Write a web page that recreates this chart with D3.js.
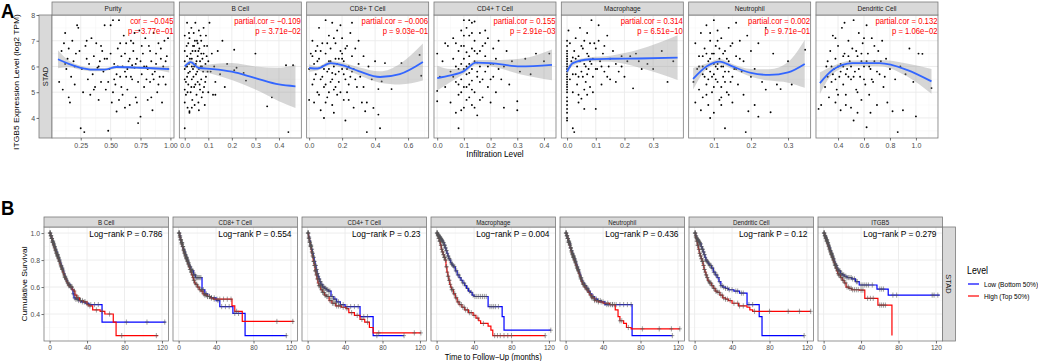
<!DOCTYPE html>
<html>
<head>
<meta charset="utf-8">
<script src="https://cdn.jsdelivr.net/npm/d3@7"></script>
<style>
  body { margin: 0; background: #fff; }
  svg { display: block; font-family: "Liberation Sans", Arial, sans-serif; }
</style>
</head>
<body>
<div id="chart"></div>
<script>
// ---------------- panel A : ITGB5 expression vs infiltration ----------------
var aNames = ["Purity", "B Cell", "CD8+ T Cell", "CD4+ T Cell", "Macrophage", "Neutrophil", "Dendritic Cell"];
var aCor = ["cor = \u22120.045", "partial.cor = \u22120.109", "partial.cor = \u22120.006", "partial.cor = 0.155",
            "partial.cor = 0.314", "partial.cor = 0.002", "partial.cor = 0.132"];
var aP = ["p = 3.77e\u221201", "p = 3.71e\u221202", "p = 9.03e\u221201", "p = 2.91e\u221203",
          "p = 6.51e\u221210", "p = 9.71e\u221201", "p = 1.06e\u221202"];
var aXDomain = [[0.01, 1.03], [-0.023, 0.495], [-0.015, 0.725], [-0.012, 0.445], [-0.02, 0.405], [0.032, 0.361], [0.23, 1.17]];
var aXTicks = [[0.25, 0.5, 0.75, 1.0], [0, 0.1, 0.2, 0.3, 0.4], [0, 0.2, 0.4, 0.6], [0, 0.1, 0.2, 0.3, 0.4],
               [0, 0.1, 0.2, 0.3], [0.1, 0.2, 0.3], [0.4, 0.6, 0.8, 1.0]];
var aYTicks = [4, 5, 6, 7, 8];

var ptsPurity = [[0.07,5.4],[0.09,6.6],[0.1,5.1],[0.11,6.9],[0.12,7.3],[0.13,5.9],[0.14,6.3],[0.15,4.8],[0.15,6.7],[0.16,4.6],
  [0.17,5.6],[0.18,7.0],[0.19,6.2],[0.2,5.3],[0.21,6.5],[0.22,7.6],[0.23,7.5],[0.24,6.6],[0.25,3.6],[0.26,5.9],[0.27,5.0],
  [0.28,3.45],[0.29,6.8],[0.3,7.0],[0.31,5.5],[0.32,6.1],[0.33,4.9],[0.34,7.1],[0.35,5.7],[0.36,6.4],[0.37,5.2],[0.38,6.9],
  [0.39,5.95],[0.4,4.7],[0.41,6.2],[0.42,5.4],[0.43,6.6],[0.44,5.8],[0.45,7.6],[0.46,5.1],[0.47,6.3],[0.48,3.5],[0.49,5.9],
  [0.5,7.6],[0.51,4.6],[0.52,7.8],[0.53,6.1],[0.54,5.3],[0.55,4.25],[0.56,6.7],[0.57,7.8],[0.58,5.6],[0.59,6.4],[0.6,4.9],
  [0.61,7.2],[0.62,5.8],[0.63,6.9],[0.64,5.1],[0.65,6.2],[0.66,4.5],[0.67,7.0],[0.68,5.5],[0.69,6.6],[0.7,5.95],[0.71,4.8],
  [0.72,6.3],[0.73,3.8],[0.74,7.4],[0.75,4.05],[0.76,5.7],[0.77,6.5],[0.78,5.2],[0.79,7.1],[0.8,6.0],[0.81,4.7],[0.82,6.8],
  [0.83,5.4],[0.84,6.2],[0.85,4.3],[0.86,7.3],[0.87,5.8],[0.88,6.5],[0.89,5.0],[0.9,6.9],[0.91,5.6],[0.92,6.3],[0.93,4.6],
  [0.94,6.0],[0.95,7.0],[0.96,5.3],[0.97,6.4],[0.98,7.1],[0.98,5.9],[0.63,5.6],[0.58,6.9],[0.66,6.3],[0.7,7.3],[0.52,5.0],
  [0.45,6.3],[0.6,6.0],[0.75,6.2],[0.81,5.9],[0.55,5.7],[0.68,6.05],[0.86,5.5],[0.4,6.0],
  [0.5,6.5],[0.53,5.5],[0.56,6.0],[0.59,5.2],[0.62,6.5],[0.64,5.9],[0.67,5.6],[0.69,6.9],[0.71,6.1],[0.73,5.4],[0.76,6.8],
  [0.78,6.0],[0.8,5.5],[0.83,6.6],[0.85,5.7],[0.88,6.1],[0.9,5.3],[0.92,6.7],[0.94,5.6],[0.96,6.2],[0.57,4.7],[0.62,4.4],
  [0.72,4.6],[0.84,4.8],[0.48,5.4],[0.42,6.8],[0.36,5.1],[0.3,6.3],[0.2,6.0],[0.12,6.1]];
var ptsBcell = [[0,6.2],[0,5.5],[0,4.6],[0,3.6],[0,7.2],[0,5.9],[0,6.6],[0,5.1],[0.005,6.0],[0.005,4.9],[0.01,7.7],[0.01,6.4],
  [0.01,5.6],[0.012,4.4],[0.015,6.9],[0.015,5.3],[0.018,6.1],[0.02,4.2],[0.02,7.1],[0.022,5.8],[0.025,6.5],[0.025,5.0],
  [0.028,7.5],[0.03,6.3],[0.03,5.5],[0.032,4.7],[0.035,6.8],[0.035,5.9],[0.038,7.3],[0.04,6.0],[0.04,5.2],[0.042,4.5],
  [0.045,6.6],[0.045,7.7],[0.048,5.7],[0.05,6.2],[0.05,4.9],[0.052,7.0],[0.055,5.4],[0.055,6.4],[0.058,4.6],[0.06,7.4],
  [0.06,5.9],[0.062,6.7],[0.065,5.1],[0.068,6.0],[0.07,7.0],[0.07,5.5],[0.072,4.8],[0.075,6.3],[0.078,5.8],[0.08,7.5],
  [0.08,6.5],[0.082,5.2],[0.085,4.5],[0.088,6.1],[0.09,7.2],[0.09,5.6],[0.095,6.8],[0.1,5.0],[0.1,6.2],[0.105,7.7],
  [0.11,5.8],[0.115,6.5],[0.12,4.9],[0.125,6.0],[0.13,5.4],[0.14,6.6],[0.15,5.7],[0.16,7.0],[0.17,5.2],[0.18,6.1],
  [0.21,6.65],[0.21,5.85],[0.22,5.95],[0.25,5.75],[0.26,5.45],[0.3,6.5],[0.13,4.9],[0.37,4.8],[0.35,4.45],[0.44,3.45],
  [0.46,6.05],[0.43,6.05],[0.02,4.26],[0.03,6.0],[0.045,5.3],[0.065,6.2],[0.015,5.75],[0.055,6.9],
  [0.005,5.4],[0.008,6.8],[0.012,5.0],[0.018,7.3],[0.022,6.3],[0.028,5.2],[0.033,6.6],[0.037,5.6],[0.043,7.0],[0.047,6.1],
  [0.053,5.8],[0.058,6.6],[0.063,5.3],[0.067,7.2],[0.073,6.0],[0.077,5.0],[0.083,6.8],[0.087,5.4],[0.093,6.4],[0.097,5.8],
  [0.03,4.4],[0.06,4.3],[0.01,6.0],[0.04,6.8],[0.07,6.5]];
var ptsCd8 = [[0.0,5.9],[0.0,4.7],[0.01,6.5],[0.02,5.3],[0.02,7.0],[0.03,6.1],[0.03,4.6],[0.04,5.7],[0.05,6.8],[0.05,5.0],
  [0.06,6.3],[0.06,7.5],[0.07,5.5],[0.07,4.3],[0.08,6.0],[0.08,6.9],[0.09,5.2],[0.1,6.5],[0.1,7.8],[0.11,5.8],[0.11,4.8],
  [0.12,6.2],[0.12,7.2],[0.13,5.4],[0.13,6.7],[0.14,4.5],[0.14,7.7],[0.15,6.0],[0.15,5.1],[0.16,6.9],[0.16,5.7],[0.17,7.4],
  [0.17,4.9],[0.18,6.3],[0.18,5.4],[0.19,6.6],[0.2,5.9],[0.2,7.1],[0.21,4.7],[0.21,6.2],[0.22,5.5],[0.23,6.8],[0.23,5.0],
  [0.24,6.0],[0.25,7.3],[0.25,5.6],[0.26,6.4],[0.27,4.4],[0.27,5.9],[0.28,6.7],[0.29,5.2],[0.3,6.1],[0.3,7.0],[0.31,5.6],
  [0.32,4.6],[0.33,6.4],[0.33,5.2],[0.34,4.26],[0.35,4.6],[0.35,3.45],[0.36,6.0],[0.38,5.5],[0.39,4.39],[0.4,6.2],
  [0.42,5.12],[0.42,4.13],[0.43,3.6],[0.44,5.42],[0.46,6.13],[0.5,5.12],[0.56,6.13],[0.67,6.45],[0.68,5.64],[0.22,3.9],
  [0.09,4.0],[0.04,6.6],[0.19,7.6],[0.26,7.7],[0.12,5.9],[0.16,6.3],[0.08,5.6],[0.2,6.5],[0.24,5.3],[0.14,5.75],
  [0.03,5.5],[0.05,6.2],[0.07,6.6],[0.09,5.9],[0.1,5.3],[0.11,6.9],[0.12,5.0],[0.13,6.2],[0.14,5.5],[0.15,7.1],[0.16,5.2],
  [0.17,6.1],[0.18,5.8],[0.19,5.0],[0.2,6.3],[0.21,5.7],[0.22,6.7],[0.23,5.9],[0.24,4.7],[0.26,5.8],[0.28,5.5],[0.06,4.9],
  [0.1,4.6],[0.15,4.2],[0.02,6.4]];
var ptsCd4 = [[0.0,6.5],[0.0,4.65],[0.0,5.05],[0.01,5.6],[0.02,6.2],[0.03,5.2],[0.04,6.8],[0.05,5.8],[0.05,4.6],[0.06,6.3],
  [0.06,7.1],[0.07,5.4],[0.07,4.2],[0.07,6.9],[0.08,5.9],[0.08,6.6],[0.08,4.9],[0.09,7.4],[0.09,5.5],[0.09,6.1],[0.1,4.4],
  [0.1,6.8],[0.1,5.2],[0.1,7.8],[0.11,6.0],[0.11,5.7],[0.11,4.7],[0.12,6.4],[0.12,7.2],[0.12,5.3],[0.13,6.7],[0.13,5.9],
  [0.13,4.5],[0.13,7.7],[0.14,6.2],[0.14,5.0],[0.14,7.0],[0.15,5.6],[0.15,6.5],[0.15,4.1],[0.16,6.0],[0.16,7.3],[0.16,5.4],
  [0.17,6.8],[0.17,4.8],[0.18,5.8],[0.18,6.4],[0.19,7.1],[0.19,5.2],[0.2,6.1],[0.2,4.6],[0.21,6.7],[0.21,5.6],[0.22,5.0],
  [0.22,6.3],[0.23,7.0],[0.24,5.5],[0.25,6.0],[0.25,4.4],[0.26,6.6],[0.27,5.3],[0.28,6.2],[0.3,4.65],[0.3,4.3],[0.31,5.8],
  [0.33,6.3],[0.35,5.7],[0.37,6.5],[0.4,6.2],[0.42,6.5],[0.08,3.6],[0.12,7.8],[0.14,7.75],[0.03,6.9],[0.1,6.3],[0.12,5.75],
  [0.09,5.0],[0.15,6.15],[0.11,6.55],[0.13,5.45],
  [0.06,5.6],[0.07,6.0],[0.08,5.3],[0.09,6.8],[0.1,5.9],[0.11,5.2],[0.12,6.1],[0.13,5.1],[0.14,6.6],[0.15,5.8],[0.16,6.6],
  [0.17,5.5],[0.18,6.9],[0.19,6.0],[0.2,5.5],[0.21,6.1],[0.12,4.8],[0.14,4.4],[0.16,4.7],[0.1,7.2],[0.13,7.3],[0.11,7.5],
  [0.18,7.4],[0.09,4.3],[0.23,5.9]];
var ptsMac = [[0,3.9],[0,4.2],[0,4.5],[0,4.8],[0,5.0],[0,5.2],[0,5.4],[0,5.6],[0,5.8],[0,6.0],[0,6.2],[0,6.4],[0,6.6],[0,6.8],
  [0,7.0],[0,4.0],[0,4.35],[0,4.65],[0,5.1],[0,5.3],[0,5.5],[0,5.7],[0,5.9],[0,6.1],[0,6.3],[0,6.5],[0.005,7.4],[0.01,5.5],
  [0.01,6.9],[0.015,6.2],[0.02,3.6],[0.02,5.0],[0.025,3.45],[0.025,6.6],[0.03,5.7],[0.03,7.1],[0.035,6.0],[0.04,4.9],
  [0.04,6.4],[0.045,7.5],[0.05,4.75],[0.05,5.8],[0.055,6.7],[0.06,4.35],[0.06,6.1],[0.065,5.4],[0.07,7.3],[0.07,6.5],
  [0.075,5.9],[0.08,6.9],[0.08,5.2],[0.085,7.8],[0.09,6.3],[0.09,5.6],[0.1,4.35],[0.1,6.7],[0.105,5.9],[0.11,7.0],
  [0.115,6.2],[0.12,5.3],[0.125,6.5],[0.13,5.8],[0.14,7.2],[0.145,6.0],[0.15,5.5],[0.16,6.6],[0.17,6.1],[0.18,5.8],
  [0.19,6.4],[0.2,5.6],[0.21,6.2],[0.23,5.15],[0.24,6.5],[0.26,5.9],[0.28,6.1],[0.3,5.9],[0.33,6.6],[0.35,5.4],[0.37,6.2],
  [0.11,7.6],[0.02,6.35],[0.04,5.6],[0.06,5.1],[0.08,6.2],
  [0.01,6.0],[0.02,5.7],[0.03,6.3],[0.035,5.3],[0.045,6.2],[0.05,6.8],[0.055,5.6],[0.06,7.0],[0.065,6.0],[0.07,5.7],
  [0.075,6.4],[0.085,6.1],[0.09,5.0],[0.095,6.9],[0.1,5.9],[0.12,6.0],[0.13,6.8],[0.14,5.6],[0.15,6.3],[0.17,5.4],
  [0.19,6.0],[0.22,6.4],[0.25,6.2],[0.04,4.6],[0.07,4.9]];
var ptsNeu = [[0.045,5.4],[0.05,4.6],[0.05,6.9],[0.055,5.9],[0.06,6.4],[0.06,5.1],[0.065,7.3],[0.07,4.8],[0.07,6.0],[0.075,5.6],
  [0.075,6.7],[0.08,7.6],[0.08,5.3],[0.085,6.2],[0.085,4.5],[0.09,7.0],[0.09,5.8],[0.095,6.5],[0.095,5.0],[0.1,7.8],
  [0.1,6.1],[0.1,4.2],[0.105,5.5],[0.105,6.8],[0.11,7.4],[0.11,5.9],[0.115,4.7],[0.115,6.3],[0.12,5.2],[0.12,7.1],
  [0.125,6.0],[0.125,5.6],[0.13,6.6],[0.13,3.6],[0.135,5.0],[0.14,7.5],[0.14,6.2],[0.145,5.4],[0.15,6.9],[0.15,4.6],
  [0.155,5.9],[0.16,6.4],[0.165,5.3],[0.17,7.0],[0.175,5.8],[0.18,6.2],[0.18,4.9],[0.19,7.2],[0.186,3.45],[0.2,5.6],
  [0.2,6.6],[0.21,4.5],[0.21,5.9],[0.22,4.05],[0.22,6.9],[0.23,5.4],[0.24,7.5],[0.24,5.1],[0.253,4.22],[0.26,6.5],
  [0.27,5.3],[0.3,6.2],[0.31,5.3],[0.28,5.12],[0.346,6.65],[0.065,4.3],[0.09,4.0],[0.16,7.7],[0.12,4.5],[0.193,4.26],
  [0.08,6.5],[0.1,5.7],[0.11,6.1],[0.07,5.7],[0.13,5.8],
  [0.06,6.0],[0.07,6.4],[0.08,5.9],[0.085,5.5],[0.09,6.3],[0.095,5.6],[0.1,6.5],[0.105,6.0],[0.11,5.4],[0.115,6.7],
  [0.12,6.0],[0.125,6.5],[0.13,5.4],[0.135,6.3],[0.14,5.8],[0.145,6.8],[0.15,5.6],[0.16,5.9],[0.17,6.3],[0.08,4.9],
  [0.1,5.2],[0.12,4.8],[0.14,4.9],[0.09,7.3],[0.11,7.0]];
var ptsDc = [[0.25,4.35],[0.27,4.5],[0.3,5.2],[0.31,6.0],[0.32,5.6],[0.33,4.8],[0.34,6.6],[0.35,5.4],[0.36,7.2],[0.37,5.9],
  [0.38,4.6],[0.38,6.3],[0.39,5.1],[0.4,6.8],[0.41,5.6],[0.42,4.3],[0.42,6.1],[0.43,7.5],[0.44,5.3],[0.45,6.5],[0.46,4.9],
  [0.47,5.9],[0.48,7.0],[0.49,6.2],[0.5,5.5],[0.5,4.4],[0.51,6.7],[0.52,7.8],[0.53,5.8],[0.54,5.1],[0.55,6.4],[0.56,7.3],
  [0.57,5.6],[0.58,4.7],[0.59,6.9],[0.6,6.0],[0.61,5.3],[0.62,3.64],[0.62,7.6],[0.63,6.5],[0.64,4.9],[0.65,5.9],[0.66,7.1],
  [0.67,5.4],[0.68,6.2],[0.7,4.5],[0.71,6.6],[0.72,5.7],[0.74,7.0],[0.75,5.2],[0.77,6.3],[0.78,4.6],[0.8,5.9],[0.82,4.26],
  [0.84,5.5],[0.86,3.45],[0.88,6.0],[0.9,4.3],[0.92,5.7],[0.95,6.7],[0.98,5.4],[1.0,4.06],[1.02,6.5],[1.05,6.49],
  [1.12,5.16],[0.45,7.7],[0.55,4.2],[0.65,4.2],[0.38,7.1],[0.52,3.9],[0.44,6.0],[0.48,5.6],[0.58,6.2],[0.36,5.7],
  [0.32,6.2],[0.35,6.0],[0.38,5.5],[0.4,6.0],[0.42,5.8],[0.44,6.4],[0.46,5.7],[0.48,6.4],[0.5,6.0],[0.52,5.6],[0.54,6.6],
  [0.56,5.9],[0.58,6.5],[0.6,5.5],[0.62,6.2],[0.64,6.0],[0.66,5.5],[0.68,6.8],[0.7,5.8],[0.73,6.2],[0.76,5.6],[0.4,4.9],
  [0.46,4.5],[0.55,5.0],[0.6,7.1]];
var aPoints = [ptsPurity, ptsBcell, ptsCd8, ptsCd4, ptsMac, ptsNeu, ptsDc];

// loess fit: [x, fit, half-width of the band]
var fitPurity = [[0.06,6.28,0.35],[0.15,6.1,0.13],[0.25,5.95,0.08],[0.35,5.88,0.07],[0.45,5.88,0.06],[0.55,5.98,0.06],
  [0.65,5.97,0.05],[0.75,5.95,0.05],[0.85,5.93,0.06],[0.99,5.9,0.13]];
var fitBcell = [[0.0,6.0,0.08],[0.025,6.17,0.09],[0.06,5.94,0.1],[0.12,5.9,0.2],[0.2,5.8,0.33],[0.3,5.55,0.45],
  [0.4,5.3,0.65],[0.47,5.23,0.84]];
var fitCd8 = [[0.0,5.94,0.15],[0.05,5.92,0.08],[0.13,6.13,0.08],[0.2,6.05,0.1],[0.3,5.82,0.15],[0.43,5.59,0.22],
  [0.55,5.7,0.4],[0.69,6.17,0.72]];
var fitCd4 = [[0.0,5.55,0.48],[0.05,5.65,0.25],[0.1,5.82,0.1],[0.145,6.15,0.1],[0.2,6.13,0.12],[0.31,6.0,0.3],[0.43,6.06,0.6]];
var fitMac = [[0.0,5.8,0.15],[0.02,6.13,0.1],[0.08,6.28,0.08],[0.15,6.3,0.12],[0.25,6.31,0.35],[0.385,6.34,0.87]];
var fitNeu = [[0.044,5.52,0.42],[0.08,6.0,0.12],[0.116,6.19,0.1],[0.15,6.0,0.1],[0.2,5.75,0.15],[0.25,5.67,0.22],
  [0.3,5.77,0.4],[0.345,6.1,0.93]];
var fitDc = [[0.26,5.35,0.42],[0.36,5.87,0.15],[0.51,6.13,0.1],[0.72,6.13,0.12],[0.93,5.87,0.25],[1.12,5.42,0.48]];
var aFits = [fitPurity, fitBcell, fitCd8, fitCd4, fitMac, fitNeu, fitDc];

// ---------------- panel B : Kaplan-Meier curves ----------------
var bNames = ["B Cell", "CD8+ T Cell", "CD4+ T Cell", "Macrophage", "Neutrophil", "Dendritic Cell", "ITGB5"];
var bLogRank = ["0.786", "0.554", "0.23", "0.004", "0.436", "0.12", "0.279"];
var bXTicks = [0, 40, 80, 120];
var bYTicks = [0.4, 0.6, 0.8, 1.0];

// [month, survival after the drop]
var bcellLow = [[0,1],[1,0.98],[2,0.96],[3,0.94],[4,0.92],[5,0.9],[6,0.88],[7,0.86],[8,0.84],[9,0.82],[10,0.8],[11,0.78],
  [12,0.76],[13,0.74],[14,0.72],[15,0.7],[16,0.68],[17,0.66],[18,0.65],[19,0.63],[20,0.62],[22,0.6],[24,0.58],[25,0.55],
  [26,0.52],[28,0.51],[31,0.5],[34,0.49],[38,0.48],[42,0.47],[56,0.34],[124,0.34]];
var bcellHigh = [[0,1],[1,0.98],[2,0.96],[3,0.93],[4,0.91],[5,0.89],[6,0.87],[7,0.85],[8,0.83],[9,0.81],[10,0.79],[11,0.77],
  [12,0.75],[13,0.73],[14,0.71],[15,0.69],[16,0.67],[17,0.66],[18,0.64],[19,0.63],[20,0.61],[22,0.6],[24,0.58],[26,0.57],
  [27,0.54],[29,0.52],[32,0.5],[36,0.49],[40,0.47],[42,0.46],[46,0.43],[54,0.42],[59,0.4],[68,0.34],[71,0.24],[116,0.24]];
var cd8Low = [[0,1],[1,0.98],[2,0.95],[3,0.93],[4,0.9],[5,0.88],[6,0.86],[7,0.84],[8,0.82],[9,0.8],[10,0.78],[11,0.76],
  [12,0.75],[13,0.73],[14,0.72],[16,0.69],[18,0.67],[25,0.58],[28,0.55],[31,0.53],[35,0.52],[40,0.5],[44,0.455],
  [58,0.405],[71,0.24],[115.5,0.24]];
var cd8High = [[0,1],[1,0.97],[2,0.95],[3,0.92],[4,0.9],[5,0.87],[6,0.85],[7,0.83],[8,0.81],[9,0.79],[10,0.77],[11,0.75],
  [12,0.73],[13,0.71],[14,0.69],[15,0.67],[16,0.65],[17,0.63],[18,0.62],[20,0.6],[22,0.58],[24,0.57],[26,0.55],[28,0.54],
  [31,0.53],[34,0.52],[37,0.51],[57,0.46],[60,0.42],[68,0.345],[123,0.345]];
var cd4Low = [[0,1],[1,0.97],[2,0.94],[3,0.91],[4,0.88],[5,0.85],[6,0.82],[7,0.79],[8,0.76],[9,0.73],[10,0.7],[11,0.68],
  [12,0.66],[13,0.64],[14,0.62],[16,0.6],[18,0.59],[20,0.58],[22,0.57],[25,0.53],[28,0.51],[31,0.49],[35,0.47],[40,0.455],
  [56,0.38],[70,0.24],[103,0.24]];
var cd4High = [[0,1],[1,0.96],[2,0.93],[3,0.9],[4,0.86],[5,0.83],[6,0.79],[7,0.76],[8,0.72],[9,0.69],[10,0.66],[11,0.63],
  [12,0.61],[14,0.58],[16,0.56],[18,0.54],[20,0.53],[23,0.5],[26,0.48],[30,0.46],[36,0.45],[41,0.44],[44,0.41],[50,0.39],
  [56,0.36],[61,0.34],[66,0.3],[70,0.26],[121,0.26]];
var macLow = [[0,1],[1,0.99],[2,0.98],[3,0.97],[4,0.96],[5,0.95],[6,0.94],[7,0.93],[8,0.91],[9,0.89],[10,0.87],[11,0.85],
  [12,0.83],[13,0.81],[14,0.8],[15,0.78],[16,0.77],[17,0.76],[18,0.75],[20,0.72],[22,0.69],[24,0.67],[26,0.65],[28,0.63],
  [30,0.61],[32,0.59],[34,0.57],[36,0.56],[38,0.54],[40,0.53],[55,0.455],[70,0.38],[72,0.28],[122,0.28]];
var macHigh = [[0,1],[1,0.98],[2,0.96],[3,0.94],[4,0.91],[5,0.88],[6,0.86],[7,0.84],[8,0.82],[9,0.8],[10,0.75],[11,0.71],
  [12,0.68],[13,0.65],[14,0.62],[15,0.6],[16,0.58],[18,0.55],[20,0.52],[22,0.49],[24,0.47],[27,0.45],[30,0.43],[34,0.41],
  [39,0.39],[42,0.37],[45,0.35],[47,0.33],[55,0.31],[58,0.28],[60,0.24],[116,0.24]];
var neuLow = [[0,1],[1,0.98],[2,0.96],[3,0.94],[4,0.92],[5,0.89],[6,0.87],[7,0.85],[8,0.83],[9,0.81],[10,0.79],[11,0.77],
  [12,0.75],[13,0.73],[14,0.71],[15,0.69],[16,0.67],[17,0.65],[18,0.63],[20,0.61],[22,0.59],[24,0.57],[26,0.55],[28,0.53],
  [31,0.51],[34,0.5],[38,0.49],[42,0.47],[71,0.24],[114,0.24]];
var neuHigh = [[0,1],[1,0.98],[2,0.96],[3,0.93],[4,0.91],[5,0.89],[6,0.86],[7,0.84],[8,0.82],[9,0.8],[10,0.78],[11,0.76],
  [12,0.74],[13,0.72],[14,0.7],[15,0.68],[16,0.66],[17,0.64],[18,0.62],[20,0.6],[22,0.58],[24,0.56],[26,0.54],[28,0.52],
  [31,0.5],[35,0.49],[40,0.48],[47,0.47],[53,0.43],[56,0.38],[58,0.35],[62,0.33],[65,0.3],[70,0.29],[122,0.29]];
var dcLow = [[0,1],[1,0.98],[2,0.96],[3,0.95],[4,0.94],[5,0.93],[6,0.92],[7,0.9],[8,0.88],[9,0.86],[10,0.84],[11,0.82],
  [12,0.8],[13,0.79],[14,0.78],[15,0.77],[16,0.76],[18,0.74],[20,0.71],[22,0.69],[24,0.67],[26,0.64],[28,0.61],[30,0.6],
  [33,0.59],[36,0.58],[42,0.57],[48,0.555],[56,0.47],[69,0.38],[72,0.24],[117,0.24]];
var dcHigh = [[0,1],[1,0.97],[2,0.94],[3,0.91],[4,0.88],[5,0.85],[6,0.83],[7,0.81],[8,0.79],[9,0.76],[10,0.73],[11,0.71],
  [12,0.69],[13,0.67],[14,0.65],[15,0.64],[16,0.63],[18,0.61],[20,0.59],[22,0.57],[24,0.56],[27,0.54],[30,0.52],[33,0.51],
  [36,0.5],[40,0.48],[47,0.46],[56,0.45],[59,0.43],[62,0.42],[124,0.42]];
var itgLow = [[0,1],[1,0.98],[2,0.97],[3,0.95],[4,0.93],[5,0.91],[6,0.89],[7,0.87],[8,0.85],[9,0.83],[10,0.81],[11,0.79],
  [12,0.77],[13,0.76],[14,0.74],[15,0.73],[16,0.72],[18,0.7],[20,0.69],[22,0.68],[25,0.67],[30,0.66],[34,0.64],[38,0.615],
  [57,0.585],[69,0.54],[124,0.54]];
var itgHigh = [[0,1],[1,0.98],[2,0.96],[3,0.94],[4,0.92],[5,0.9],[6,0.88],[7,0.86],[8,0.84],[9,0.82],[10,0.8],[11,0.78],
  [12,0.76],[13,0.74],[14,0.72],[15,0.7],[16,0.69],[18,0.67],[20,0.65],[22,0.63],[24,0.6],[27,0.59],[30,0.58],[38,0.577],
  [44,0.516],[58,0.466],[73,0.24]];
var kmLow = [bcellLow, cd8Low, cd4Low, macLow, neuLow, dcLow, itgLow];
var kmHigh = [bcellHigh, cd8High, cd4High, macHigh, neuHigh, dcHigh, itgHigh];

// censoring times (months)
var earlyCens = [0.3,0.8,1.2,1.7,2.1,2.6,3,3.5,3.9,4.4,4.8,5.3,5.7,6.2,6.6,7.1,7.5,8,8.4,8.9,9.3,9.8,10.3,10.8,11.4,12,
  12.6,13.2,13.9,14.6,15.3,16,16.8,17.6,18.5,19.4,20.4,21.5,22.6,23.8,25,26.5,28,29.5,31,33,35];
var censLow = [[37,40,44,48,52,82,104,123], [38,42,46,50,54,60,64,115], [38,42,46,50,54,60,64,74,103],
  [37,39,41,43,45,47,49,51,53,57,59,61,63,66,122], [37,40,44,46,48,50,52,54,58,62,66,70,114],
  [37,40,44,46,50,52,58,62,117], [36,40,42,44,46,48,52,60,62,64,74,78,116,118,122]];
var censHigh = [[38,41,43,50,56,64,77,114], [38,41,44,48,52,56,62,105,122], [38,42,47,53,58,64,76,114,121],
  [37,40,44,50,62,65,68,72,76,80,116], [38,42,45,50,58,60,67,82,100,113,122],
  [38,42,46,48,52,64,80,100,112,124], [37,40,42,47,50,53,60,62,64,66]];

var legendLabels = ["Low (Bottom 50%)", "High (Top 50%)"];
var legendColors = ["#0000ff", "#ff0000"];

// ---------------- drawing ----------------
var W = 1038, H = 361;
var SQ = 0.88;   // the reference's text is a little condensed
var gridMajor = "#ebebeb", gridMinor = "#f4f4f4", borderCol = "#7a7a7a", stripFill = "#d9d9d9";

var svg = d3.select("#chart").append("svg").attr("width", W).attr("height", H);
var defs = svg.append("defs");

function addText(g, x, y, str, size, anchor, fill, rot) {
  return g.append("text")
    .attr("transform", "translate(" + x + "," + y + ") scale(" + SQ + ",1)" + (rot ? " rotate(" + rot + ")" : ""))
    .attr("text-anchor", anchor || "start")
    .style("font-size", size + "px")
    .attr("fill", fill || "#000")
    .text(str);
}

function minorBreaks(ticks, dom) {
  var d = ticks.length > 1 ? ticks[1] - ticks[0] : 0.1, out = [];
  ticks.forEach(function(t) { out.push(t - d / 2); });
  out.push(ticks[ticks.length - 1] + d / 2);
  return out.filter(function(v) { return v > dom[0] && v < dom[1]; });
}

function drawGrid(g, x, y, xt, yt, xm, ym) {
  var r = x.range(), rr = y.range();
  g.selectAll(".gxm").data(xm).enter().append("line")
    .attr("x1", x).attr("x2", x).attr("y1", rr[0]).attr("y2", rr[1])
    .attr("stroke", gridMinor).attr("stroke-width", 0.5);
  g.selectAll(".gym").data(ym).enter().append("line")
    .attr("y1", y).attr("y2", y).attr("x1", r[0]).attr("x2", r[1])
    .attr("stroke", gridMinor).attr("stroke-width", 0.5);
  g.selectAll(".gx").data(xt).enter().append("line")
    .attr("x1", x).attr("x2", x).attr("y1", rr[0]).attr("y2", rr[1])
    .attr("stroke", gridMajor).attr("stroke-width", 0.9);
  g.selectAll(".gy").data(yt).enter().append("line")
    .attr("y1", y).attr("y2", y).attr("x1", r[0]).attr("x2", r[1])
    .attr("stroke", gridMajor).attr("stroke-width", 0.9);
}

function styleAxis(sel, size) {
  sel.select(".domain").remove();
  sel.selectAll(".tick line").attr("stroke", "#333").attr("stroke-width", 0.7);
  sel.selectAll(".tick text").attr("fill", "#4d4d4d").style("font-size", size + "px")
    .attr("transform", "scale(" + SQ + ",1)");
}

// ----- A -----
var mA = {left: 52, step: 127.33, w: 122, top: 15, bottom: 138, strip: 2};
var yA = d3.scaleLinear().domain([3.22, 8.0]).range([mA.bottom, mA.top]);

addText(svg, 1, 18, "A", 21, "start", "#000").style("font-weight", "bold");
addText(svg, 19, 82, "ITGB5 Expression Level (log2 TPM)", 8.5, "middle", "#000", -90);

svg.append("rect").attr("x", 39).attr("y", mA.top).attr("width", 13).attr("height", mA.bottom - mA.top)
  .attr("fill", stripFill).attr("stroke", borderCol).attr("stroke-width", 0.8);
addText(svg, 48, (mA.top + mA.bottom) / 2, "STAD", 7.5, "middle", "#1a1a1a", -90);

svg.append("g").attr("transform", "translate(39,0)")
  .call(d3.axisLeft(yA).tickValues(aYTicks).tickSize(2.5).tickPadding(2).tickFormat(d3.format("d")))
  .call(styleAxis, 8);

aNames.forEach(function(name, i) {
  var x0 = mA.left + i * mA.step;
  var x = d3.scaleLinear().domain(aXDomain[i]).range([x0, x0 + mA.w]);
  var g = svg.append("g");
  g.append("rect").attr("x", x0).attr("y", mA.top).attr("width", mA.w).attr("height", mA.bottom - mA.top).attr("fill", "#fff");
  drawGrid(g, x, yA, aXTicks[i], aYTicks, minorBreaks(aXTicks[i], aXDomain[i]), [3.5, 4.5, 5.5, 6.5, 7.5]);

  defs.append("clipPath").attr("id", "clipA" + i).append("rect")
    .attr("x", x0).attr("y", mA.top).attr("width", mA.w).attr("height", mA.bottom - mA.top);
  var inner = g.append("g").attr("clip-path", "url(#clipA" + i + ")");

  inner.selectAll("circle").data(aPoints[i]).enter().append("circle")
    .attr("cx", function(d) { return x(d[0]); })
    .attr("cy", function(d) { return yA(d[1]); })
    .attr("r", 0.95).attr("fill", "#000");

  inner.append("path").datum(aFits[i])
    .attr("d", d3.area()
      .x(function(d) { return x(d[0]); })
      .y0(function(d) { return yA(d[1] - d[2]); })
      .y1(function(d) { return yA(d[1] + d[2]); })
      .curve(d3.curveMonotoneX))
    .attr("fill", "#999").attr("opacity", 0.4);

  inner.append("path").datum(aFits[i])
    .attr("d", d3.line()
      .x(function(d) { return x(d[0]); })
      .y(function(d) { return yA(d[1]); })
      .curve(d3.curveMonotoneX))
    .attr("fill", "none").attr("stroke", "#3366ff").attr("stroke-width", 1.8);

  g.append("rect").attr("x", x0).attr("y", mA.top).attr("width", mA.w).attr("height", mA.bottom - mA.top)
    .attr("fill", "none").attr("stroke", borderCol).attr("stroke-width", 0.8);
  g.append("rect").attr("x", x0).attr("y", mA.strip).attr("width", mA.w).attr("height", mA.top - mA.strip)
    .attr("fill", stripFill).attr("stroke", borderCol).attr("stroke-width", 0.8);
  addText(g, x0 + mA.w / 2, mA.strip + 9.3, name, 7.5, "middle", "#1a1a1a");

  addText(g, x0 + mA.w - 0.5, 23.5, aCor[i], 8.8, "end", "#ff0000");
  addText(g, x0 + mA.w - 0.5, 33.8, aP[i], 8.8, "end", "#ff0000");

  g.append("g").attr("transform", "translate(0," + mA.bottom + ")")
    .call(d3.axisBottom(x).tickValues(aXTicks[i]).tickSize(2.5).tickPadding(1.5)
      .tickFormat(d3.format(i === 0 ? ".2f" : ".1f")))
    .call(styleAxis, 8);
});
addText(svg, (mA.left + 6 * mA.step + mA.w + mA.left) / 2, 157, "Infiltration Level", 9.3, "middle", "#000");

// ----- B -----
var mB = {left: 44, step: 129, w: 124.5, top: 227, bottom: 341, strip: 217};
var xDomB = [-6, 127];
var yB = d3.scaleLinear().domain([0.2, 1.045]).range([mB.bottom, mB.top]);

addText(svg, 1, 215, "B", 21, "start", "#000").style("font-weight", "bold");
addText(svg, 27, (mB.top + mB.bottom) / 2, "Cumulative Survival", 8.5, "middle", "#000", -90);

svg.append("g").attr("transform", "translate(" + mB.left + ",0)")
  .call(d3.axisLeft(yB).tickValues(bYTicks).tickSize(2.5).tickPadding(2).tickFormat(d3.format(".1f")))
  .call(styleAxis, 7.8);

function survAt(steps, t) {
  var s = 1;
  steps.forEach(function(d) { if (d[0] <= t) s = d[1]; });
  return s;
}

bNames.forEach(function(name, i) {
  var x0 = mB.left + i * mB.step;
  var x = d3.scaleLinear().domain(xDomB).range([x0, x0 + mB.w]);
  var g = svg.append("g");
  g.append("rect").attr("x", x0).attr("y", mB.top).attr("width", mB.w).attr("height", mB.bottom - mB.top).attr("fill", "#fff");
  drawGrid(g, x, yB, bXTicks, bYTicks, [20, 60, 100], [0.3, 0.5, 0.7, 0.9]);

  var line = d3.line()
    .x(function(d) { return x(d[0]); })
    .y(function(d) { return yB(d[1]); })
    .curve(d3.curveStepAfter);

  [[kmLow[i], legendColors[0]], [kmHigh[i], legendColors[1]]].forEach(function(c) {
    g.append("path").datum(c[0]).attr("d", line)
      .attr("fill", "none").attr("stroke", c[1]).attr("stroke-width", 1.2);
  });

  [[kmLow[i], censLow[i]], [kmHigh[i], censHigh[i]]].forEach(function(c) {
    var tEnd = c[0][c[0].length - 1][0];
    var times = earlyCens.concat(c[1]).filter(function(t) { return t <= tEnd; });
    g.selectAll(null).data(times).enter().append("path")
      .attr("transform", function(t) { return "translate(" + x(t) + "," + yB(survAt(c[0], t)) + ")"; })
      .attr("d", "M-2,0H2M0,-2.6V2.6")
      .attr("stroke", "#555").attr("stroke-opacity", 0.7).attr("stroke-width", 0.8);
  });

  g.append("rect").attr("x", x0).attr("y", mB.top).attr("width", mB.w).attr("height", mB.bottom - mB.top)
    .attr("fill", "none").attr("stroke", borderCol).attr("stroke-width", 0.8);
  g.append("rect").attr("x", x0).attr("y", mB.strip).attr("width", mB.w).attr("height", mB.top - mB.strip)
    .attr("fill", stripFill).attr("stroke", borderCol).attr("stroke-width", 0.8);
  addText(g, x0 + mB.w / 2, mB.strip + 7.8, name, 7, "middle", "#1a1a1a");

  addText(g, x0 + mB.w - 6, 236.5, "Log\u2212rank P = " + bLogRank[i], 9.5, "end", "#000");

  g.append("g").attr("transform", "translate(0," + mB.bottom + ")")
    .call(d3.axisBottom(x).tickValues(bXTicks).tickSize(2.5).tickPadding(1).tickFormat(d3.format("d")))
    .call(styleAxis, 7.5);
});

var stadX = mB.left + 6 * mB.step + mB.w;
svg.append("rect").attr("x", stadX).attr("y", mB.top).attr("width", 13).attr("height", mB.bottom - mB.top)
  .attr("fill", stripFill).attr("stroke", borderCol).attr("stroke-width", 0.8);
addText(svg, stadX + 3.8, (mB.top + mB.bottom) / 2, "STAD", 7.5, "middle", "#1a1a1a", 90);

addText(svg, (mB.left + stadX) / 2, 360, "Time to Follow\u2212Up (months)", 8.8, "middle", "#000");

// legend
var lg = svg.append("g");
addText(lg, 967, 274, "Level", 10, "start", "#000");
legendLabels.forEach(function(lab, k) {
  var yy = 284 + k * 12;
  lg.append("line").attr("x1", 968).attr("x2", 979).attr("y1", yy).attr("y2", yy)
    .attr("stroke", legendColors[k]).attr("stroke-width", 1.2);
  addText(lg, 984, yy + 2.6, lab, 7.5, "start", "#000");
});
</script>
</body>
</html>
